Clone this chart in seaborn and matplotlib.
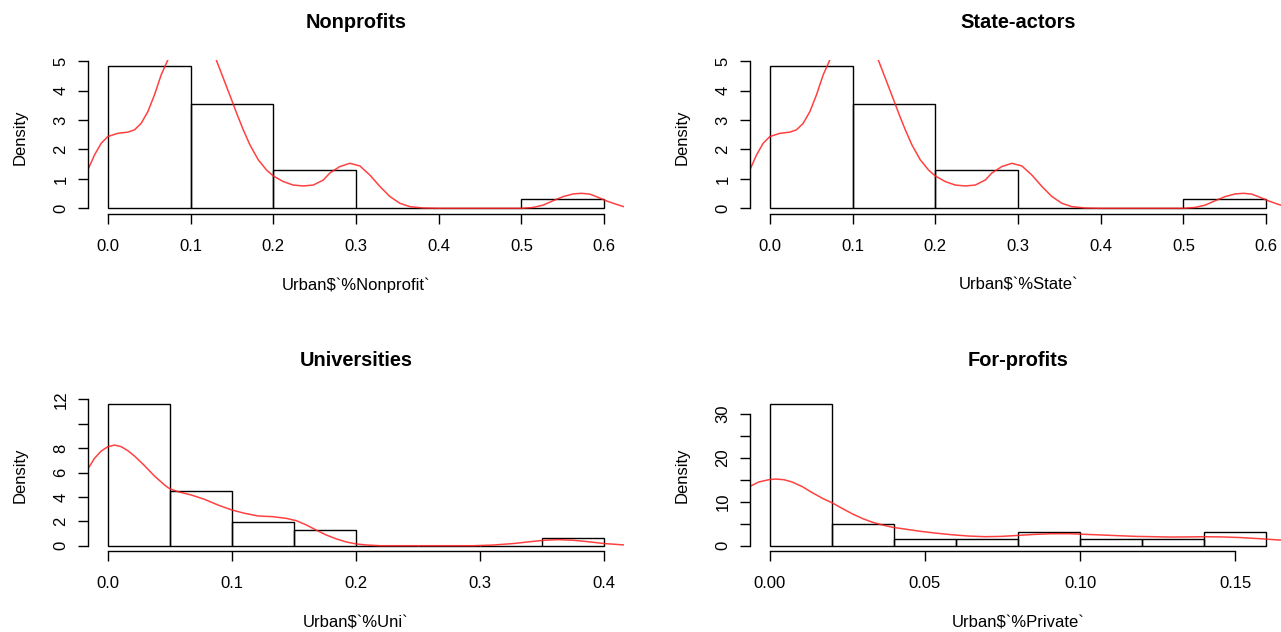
import matplotlib
matplotlib.use("Agg")
import matplotlib.pyplot as plt
import seaborn as sns

# --- data (31 regions, R hist + density) ---

# Nonprofits
nonprofit_edges = [0.0, 0.1, 0.2, 0.3, 0.4, 0.5, 0.6]
nonprofit_counts = [15, 11, 4, 0, 0, 1]
nonprofit_kde_x = [-0.0242, -0.0161, -0.0081, 0.0, 0.0121, 0.0242, 0.0323, 0.0403, 0.0484,
                   0.0564, 0.0645, 0.0726, 0.08, 0.10, 0.12, 0.131, 0.1496, 0.1556, 0.1637,
                   0.1717, 0.1818, 0.1919, 0.20, 0.212, 0.2241, 0.2362, 0.2483, 0.2604, 0.2684,
                   0.2805, 0.2926, 0.3047, 0.3168, 0.329, 0.341, 0.3531, 0.3652, 0.3813, 0.40,
                   0.45, 0.5002, 0.5143, 0.5264, 0.5385, 0.5506, 0.5627, 0.5728, 0.5829, 0.593,
                   0.603, 0.6131, 0.6232, 0.626]
nonprofit_kde_y = [1.305, 1.816, 2.21, 2.44, 2.55, 2.59, 2.67, 2.89, 3.29,
                   3.86, 4.54, 5.05, 5.5, 6.0, 5.6, 5.05, 3.69, 3.24, 2.67,
                   2.16, 1.65, 1.30, 1.10, 0.91, 0.79, 0.76, 0.79, 0.96, 1.20,
                   1.42, 1.53, 1.44, 1.13, 0.74, 0.40, 0.17, 0.056, 0.01, 0.0,
                   0.0, 0.0, 0.03, 0.11, 0.26, 0.40, 0.49, 0.51, 0.48, 0.37,
                   0.25, 0.15, 0.06, 0.05]

# State-actors (same shape as nonprofits in the picture)
state_edges = [0.0, 0.1, 0.2, 0.3, 0.4, 0.5, 0.6]
state_counts = [15, 11, 4, 0, 0, 1]
state_kde_x = list(nonprofit_kde_x)
state_kde_y = list(nonprofit_kde_y)

# Universities
uni_edges = [0.0, 0.05, 0.1, 0.15, 0.2, 0.25, 0.3, 0.35, 0.4]
uni_counts = [18, 7, 3, 2, 0, 0, 0, 1]
uni_kde_x = [-0.0161, -0.0108, -0.0054, 0.0, 0.0054, 0.0108, 0.0161, 0.0215, 0.0296, 0.0376,
             0.0457, 0.0497, 0.0565, 0.0672, 0.078, 0.0887, 0.10, 0.1102, 0.121, 0.1333,
             0.144, 0.152, 0.16, 0.168, 0.176, 0.1844, 0.1925, 0.2006, 0.2086, 0.2194,
             0.25, 0.2946, 0.311, 0.328, 0.34, 0.352, 0.363, 0.375, 0.388, 0.40, 0.418]
uni_kde_y = [6.29, 7.16, 7.76, 8.12, 8.25, 8.12, 7.79, 7.35, 6.56, 5.71,
             4.98, 4.68, 4.43, 4.16, 3.80, 3.34, 2.93, 2.66, 2.44, 2.38,
             2.24, 2.05, 1.70, 1.28, 0.88, 0.55, 0.30, 0.14, 0.06, 0.0,
             0.0, 0.0, 0.06, 0.19, 0.33, 0.45, 0.50, 0.45, 0.32, 0.18, 0.05]

# For-profits
private_edges = [0.0, 0.02, 0.04, 0.06, 0.08, 0.10, 0.12, 0.14, 0.16]
private_counts = [20, 3, 1, 1, 2, 1, 1, 2]
private_kde_x = [-0.0066, -0.0036, -0.0003, 0.0018, 0.0045, 0.0072, 0.0105, 0.0137, 0.017, 0.02,
                 0.0235, 0.0267, 0.03, 0.0332, 0.0364, 0.0397, 0.044, 0.0478, 0.0532, 0.0586,
                 0.064, 0.0694, 0.0748, 0.0802, 0.0856, 0.091, 0.0964, 0.1018, 0.1072, 0.1126,
                 0.118, 0.1234, 0.1288, 0.134, 0.14, 0.146, 0.152, 0.158, 0.1664]
private_kde_y = [13.44, 14.51, 15.04, 15.19, 15.04, 14.51, 13.44, 12.07, 10.78, 9.80,
                 8.43, 7.22, 6.15, 5.32, 4.71, 4.18, 3.75, 3.35, 2.89, 2.51,
                 2.21, 2.06, 2.13, 2.36, 2.59, 2.74, 2.74, 2.59, 2.44, 2.28,
                 2.13, 2.06, 1.98, 2.0, 2.05, 2.0, 1.85, 1.6, 1.2]

titles = ["Nonprofits", "State-actors", "Universities", "For-profits"]
xlabels = ["Urban$`%Nonprofit`", "Urban$`%State`", "Urban$`%Uni`", "Urban$`%Private`"]

x_ticks = [[0.0, 0.1, 0.2, 0.3, 0.4, 0.5, 0.6],
           [0.0, 0.1, 0.2, 0.3, 0.4, 0.5, 0.6],
           [0.0, 0.1, 0.2, 0.3, 0.4],
           [0.0, 0.05, 0.10, 0.15]]
x_tick_labels = [["0.0", "0.1", "0.2", "0.3", "0.4", "0.5", "0.6"],
                 ["0.0", "0.1", "0.2", "0.3", "0.4", "0.5", "0.6"],
                 ["0.0", "0.1", "0.2", "0.3", "0.4"],
                 ["0.00", "0.05", "0.10", "0.15"]]
y_ticks = [[0, 1, 2, 3, 4, 5],
           [0, 1, 2, 3, 4, 5],
           [0, 2, 4, 6, 8, 10, 12],
           [0, 5, 10, 15, 20, 25, 30]]
y_tick_labels = [["0", "1", "2", "3", "4", "5"],
                 ["0", "1", "2", "3", "4", "5"],
                 ["0", "2", "4", "6", "8", "", "12"],
                 ["0", "", "10", "", "20", "", "30"]]

edges = [nonprofit_edges, state_edges, uni_edges, private_edges]
counts = [nonprofit_counts, state_counts, uni_counts, private_counts]
kde_x = [nonprofit_kde_x, state_kde_x, uni_kde_x, private_kde_x]
kde_y = [nonprofit_kde_y, state_kde_y, uni_kde_y, private_kde_y]

# --- layout (figure fractions, R-like plot regions) ---
W, H = 1281, 632
rects = [[88 / W, (H - 214) / H, 536 / W, 153.7 / H],
         [750 / W, (H - 214) / H, 536 / W, 153.7 / H],
         [88 / W, (H - 551.4) / H, 536 / W, 153 / H],
         [750 / W, (H - 551.4) / H, 536 / W, 153 / H]]

sns.set_style("ticks")
plt.rcParams['font.family'] = ['Liberation Sans', 'DejaVu Sans']
plt.rcParams['axes.linewidth'] = 1.0
plt.rcParams['xtick.major.size'] = 7.2
plt.rcParams['ytick.major.size'] = 7.2
plt.rcParams['xtick.major.width'] = 1.0
plt.rcParams['ytick.major.width'] = 1.0
# R draws everything in plain black
for key in ['xtick.color', 'ytick.color', 'text.color', 'axes.labelcolor',
            'axes.edgecolor', 'xtick.labelcolor', 'ytick.labelcolor']:
    plt.rcParams[key] = 'black'

fig = plt.figure(figsize=(W / 100, H / 100), dpi=100)

for i in range(4):
    ax = fig.add_axes(rects[i])
    e = edges[i]
    mids = [(a + b) / 2 for a, b in zip(e[:-1], e[1:])]
    sns.histplot(x=mids, weights=counts[i], bins=e, stat='density', fill=False,
                 color='black', linewidth=1.0, ax=ax)
    sns.lineplot(x=kde_x[i], y=kde_y[i], color='#ff2020', linewidth=1.1, alpha=0.85,
                 solid_joinstyle='round', ax=ax)

    # R pads the data range by 4%
    xr = e[-1] - e[0]
    ytop = max(c / (sum(counts[i]) * (e[1] - e[0])) for c in counts[i])
    ax.set_xlim(e[0] - 0.04 * xr, e[-1] + 0.04 * xr)
    ax.set_ylim(-0.04 * ytop, ytop * 1.04)

    ax.set_xticks(x_ticks[i])
    ax.set_xticklabels(x_tick_labels[i])
    ax.set_yticks(y_ticks[i])
    ax.set_yticklabels(y_tick_labels[i], rotation=90, va='center')
    ax.tick_params(axis='x', labelsize=12, pad=10.5)
    ax.tick_params(axis='y', labelsize=12, pad=7)

    sns.despine(ax=ax)
    ax.spines['bottom'].set_bounds(x_ticks[i][0], x_ticks[i][-1])
    ax.spines['left'].set_bounds(y_ticks[i][0], y_ticks[i][-1])

    ax.set_title(titles[i], fontsize=14.4, fontweight='bold', pad=23.5, color='black')
    ax.set_xlabel(xlabels[i], fontsize=12)
    ax.set_ylabel('Density', fontsize=12)
    ax.xaxis.set_label_coords(0.5, -0.416)
    ax.yaxis.set_label_coords(-0.112, 0.5)

fig.savefig('out.png', dpi=100)
plt.close(fig)
